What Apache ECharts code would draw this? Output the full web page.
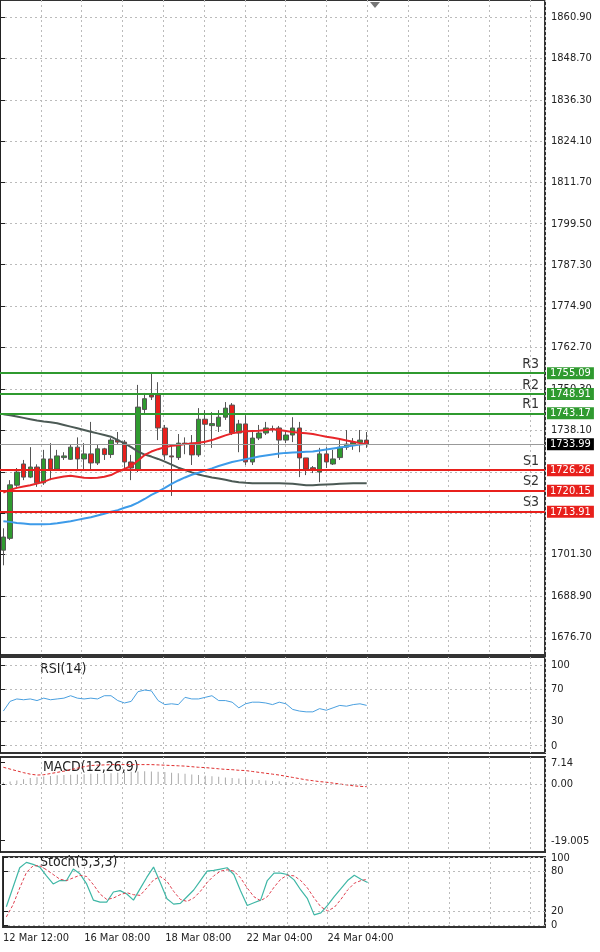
<!DOCTYPE html>
<html><head><meta charset="utf-8">
<script src="https://cdn.jsdelivr.net/npm/echarts@6/dist/echarts.min.js"></script>
<style>html,body{margin:0;padding:0;background:#fff}#c{width:600px;height:952px}</style>
</head><body><div id="c"></div>
<script>
const opens  = [1702.5,1706,1721.8,1728.1,1724.2,1727.2,1722.5,1729.6,1726.6,1730,1729.5,1733.1,1729.6,1731.1,1728.4,1732.6,1730.9,1735.2,1734.6,1728.7,1726.3,1744.3,1748.6,1748.6,1738.8,1730.5,1730,1734,1734.3,1730.8,1741.4,1739.5,1739.3,1742,1745.6,1737.3,1740,1728.7,1735.8,1737.3,1738.4,1738.8,1735.2,1736.7,1738.8,1729.9,1727,1725.7,1731.1,1728.1,1730,1733.1,1734,1734.5,1735.2];
const closes = [1706.4,1721.9,1725.7,1724.2,1727.2,1722.5,1729.6,1726.6,1730.5,1730.5,1733.1,1729.6,1731.1,1728.4,1732.6,1730.9,1735.2,1734.6,1728.7,1726.9,1745.0,1747.5,1748.0,1738.8,1730.8,1730.2,1734.3,1734.3,1730.8,1741.4,1739.9,1740.1,1742,1744.7,1737.3,1740,1728.7,1735.8,1737.3,1738.8,1738.6,1735.2,1736.7,1738.8,1729.9,1726.6,1726.2,1731.1,1728.7,1729.6,1733.1,1734,1734.5,1735.2,1733.99];
const lows   = [1698,1705.5,1721.3,1723.3,1723.9,1721.3,1721.9,1723.3,1726.3,1729.3,1729.3,1726.3,1726.3,1726.3,1727.8,1729.3,1729.9,1733.8,1726.3,1723.3,1725.7,1743.2,1747.1,1735.2,1729.3,1718.6,1729.3,1731,1727.8,1730.2,1733.8,1732.9,1737.6,1741.2,1736.7,1731.6,1727.8,1727.8,1735.2,1736.7,1737.5,1729.9,1734.3,1734.6,1724.2,1724.8,1725.4,1722.7,1726.9,1727.8,1729.3,1732.3,1732.3,1731.6,1732.9];
const highs  = [1709,1723.3,1726.9,1729.3,1733.1,1728,1732.3,1734.3,1732.3,1731.6,1733.8,1736,1734.3,1740.6,1733.8,1732.9,1735.8,1737.6,1735.2,1730.8,1751.6,1749.2,1755.1,1752.4,1739.7,1734.0,1737,1736,1736.7,1744.7,1744.1,1743.5,1744.1,1746.5,1746.2,1741.2,1742.6,1738.2,1739.7,1740.6,1739.5,1739.4,1738.2,1742,1740.6,1729.9,1727.5,1732.9,1733.1,1732.3,1735.2,1738.2,1735.8,1738.2,1737.6];
const maFast = [1719.6,1720.4,1721.0,1721.4,1721.8,1722.3,1722.8,1723.6,1724.0,1724.4,1724.6,1724.3,1724.0,1723.9,1724.0,1724.3,1724.8,1725.8,1726.6,1727.5,1729.1,1730.8,1731.8,1732.5,1733.1,1733.5,1733.7,1734.0,1734.2,1734.4,1734.7,1735.2,1735.9,1736.6,1737.2,1737.6,1737.8,1737.9,1738.0,1738.2,1738.4,1738.2,1737.9,1737.6,1737.4,1737.2,1737.0,1736.6,1736.2,1735.9,1735.5,1735.1,1734.7,1734.3,1734.0];
const maMid  = [1711.1,1710.9,1710.6,1710.4,1710.2,1710.2,1710.2,1710.3,1710.5,1710.8,1711.1,1711.5,1711.9,1712.3,1712.8,1713.3,1713.9,1714.4,1715.1,1715.7,1716.6,1717.7,1718.9,1719.9,1721.0,1722.2,1723.2,1724.1,1724.9,1725.5,1726.2,1726.8,1727.5,1728.1,1728.7,1729.1,1729.5,1729.9,1730.3,1730.6,1730.9,1731.2,1731.4,1731.5,1731.6,1731.7,1731.8,1732.1,1732.4,1732.7,1733.0,1733.3,1733.6,1733.9,1734.1];
const maSlow = [1742.9,1742.6,1742.2,1741.8,1741.4,1741.0,1740.7,1740.5,1740.2,1739.7,1739.2,1738.7,1738.2,1737.7,1737.2,1736.7,1736.2,1735.2,1734.2,1733.1,1731.8,1730.9,1730.3,1729.6,1728.8,1727.9,1727.0,1726.3,1725.6,1725.0,1724.5,1724.1,1723.8,1723.4,1723.0,1722.7,1722.5,1722.4,1722.4,1722.4,1722.4,1722.4,1722.3,1722.2,1722.0,1721.8,1721.8,1721.9,1722.0,1722.1,1722.2,1722.3,1722.4,1722.4,1722.4];
const rsi = [43,55,58,57,58,56,59,57,58,59,62,59,58,59,58,62,62,56,53,55,67,69,68,56,51,52,51,60,58,58,60,62,56,56,54,47,52,54,54,53,51,54,52,45,43,42,42,46,44,47,50,49,51,52,50];
const macdHist = [0.5,0.8,1.2,1.6,2.0,2.3,2.5,2.7,2.9,3.0,3.1,3.2,3.3,3.4,3.4,3.5,3.6,3.8,4.0,4.1,4.2,4.3,4.2,4.1,4.0,3.8,3.6,3.4,3.2,3.0,2.8,2.6,2.4,2.2,2.0,1.8,1.6,1.4,1.3,1.2,1.0,0.9,0.7,0.6,0.4,0.3,0.2,0.1,0,-0.1,-0.2,-0.3,-0.4,-0.5,-0.5];
const macdSignal = [5.6,5.0,4.4,3.8,3.3,3.0,3.1,3.5,3.9,4.3,4.8,5.3,5.8,6.2,6.3,6.4,6.5,6.5,6.5,6.5,6.5,6.5,6.5,6.4,6.3,6.2,6.1,6.0,5.8,5.6,5.5,5.3,5.1,4.9,4.8,4.6,4.5,4.2,3.9,3.6,3.3,3.0,2.6,2.2,1.8,1.4,1.1,0.8,0.6,0.3,0,-0.3,-0.6,-0.8,-0.9];
const stochK = [27,56,85,93,90,86,73,61,66,66,83,76,61,37,34,34,49,51,46,37,54,71,86,63,39,31,32,42,52,66,80,81,83,85,75,51,29,33,37,66,77,77,75,67,52,39,15,18,29,42,54,66,74,68,63];
const stochD = [12,30,55,78,88,88,82,75,68,66,70,74,72,60,46,38,40,45,48,45,44,55,67,72,65,50,38,35,40,50,63,73,80,82,80,70,55,42,36,42,56,68,74,73,66,55,40,27,21,26,38,52,62,66,68];
const levelNames  = ['R3','R2','R1','S1','S2','S3'];
const levelValues = [1755.09,1748.91,1743.17,1726.26,1720.15,1713.91];
const lastPrice = 1733.99;
const priceTicks = [1860.9,1848.7,1836.3,1824.1,1811.7,1799.5,1787.3,1774.9,1762.7,1750.3,1738.1,1701.3,1688.9,1676.7];
const priceGridTicks = [1860.9,1848.7,1836.3,1824.1,1811.7,1799.5,1787.3,1774.9,1762.7,1750.3,1738.1,1725.7,1713.5,1701.3,1688.9,1676.7];
const timeLabels = ['12 Mar 12:00','16 Mar 08:00','18 Mar 08:00','22 Mar 04:00','24 Mar 04:00'];
const SLOTS = 81;
const cats = Array.from({length: SLOTS}, (_, i) => i);

const GREEN = '#2f9a2f', RED = '#e8201c';
const grids = [
  {left:0, right:55, top:0, height:655},
  {left:0, right:55, top:657, height:96},
  {left:0, right:55, top:757, height:95},
  {left:0, right:55, top:857, height:70}
].map(g => Object.assign(g, {show:true, borderColor:'#333', borderWidth:2, backgroundColor:'#fff'}));

const xAxes = [], yAxes = [];
grids.forEach((g, k) => {
  xAxes.push({type:'category', gridIndex:k, data:cats, boundaryGap:true, show:false});
  xAxes.push({type:'value', gridIndex:k, min:0, max:13.36, interval:1, position:'bottom',
    axisLine:{show:false}, axisTick:{show:false},
    axisLabel: k===3 ? {show:true, align:'left', color:'#222', fontSize:11, fontFamily:'DejaVu Sans Condensed, Liberation Sans', margin:6,
      formatter: v => (v % 2 === 0 && timeLabels[v/2]) ? timeLabels[v/2] : ''} : {show:false},
    splitLine:{show:true, lineStyle:{color:'#bbb', type:[2,3], width:1}}});
});
const lbl = {color:'#222', fontSize:11, fontFamily:'DejaVu Sans Condensed, Liberation Sans', margin:6};
const dashed = {show:true, lineStyle:{color:'#bbb', type:[2,3]}};
yAxes.push({type:'value', gridIndex:0, position:'right', min:1671.35, max:1865.95, scale:true,
  axisLine:{show:true, lineStyle:{color:'#222'}}, axisTick:{show:true, customValues:priceGridTicks, lineStyle:{color:'#222'}},
  axisLabel:Object.assign({customValues:priceTicks, formatter: v => v.toFixed(2)}, lbl), splitLine:dashed});
yAxes.push({type:'value', gridIndex:1, position:'right', min:-9, max:110,
  axisLine:{show:true, lineStyle:{color:'#222'}}, axisTick:{show:true, customValues:[0,30,70,100]},
  axisLabel:Object.assign({customValues:[0,30,70,100]}, lbl), splitLine:dashed});
yAxes.push({type:'value', gridIndex:2, position:'right', min:-22.8, max:9.05,
  axisLine:{show:true, lineStyle:{color:'#222'}}, axisTick:{show:true, customValues:[7.14,0,-19.005]},
  axisLabel:Object.assign({customValues:[7.14,0,-19.005], formatter: v => v===-19.005?'-19.005':v.toFixed(2)}, lbl),
  splitLine:{show:false}});
yAxes.push({type:'value', gridIndex:3, position:'right', min:-3, max:101,
  axisLine:{show:true, lineStyle:{color:'#222'}}, axisTick:{show:true, customValues:[0,20,80,100]},
  axisLabel:Object.assign({customValues:[0,20,80,100]}, lbl), splitLine:dashed});

const ohlc = opens.map((o, i) => [o, closes[i], lows[i], highs[i]]);
const levelLines = levelValues.map((v, i) => ({yAxis:v, name:levelNames[i],
  lineStyle:{color: i<3 ? GREEN : RED, width:2, type:'solid'},
  label:{show:true, position:'insideEndTop', formatter:levelNames[i], color:'#333', fontSize:14, fontFamily:'DejaVu Sans Condensed', distance:[6,2]}}));
const boxLines = levelValues.map((v, i) => ({yAxis:v,
  lineStyle:{color:'rgba(0,0,0,0)', width:0},
  label:{show:true, position:'end', formatter:v.toFixed(2), color:'#fff', backgroundColor: i<3 ? GREEN : RED,
    padding:[1,3,0,3], fontSize:11, fontFamily:'DejaVu Sans Condensed', distance:2}}));
boxLines.push({yAxis:lastPrice, lineStyle:{color:'#999', width:1, type:'solid'},
  label:{show:true, position:'end', formatter:lastPrice.toFixed(2), color:'#fff', backgroundColor:'#000',
    padding:[1,3,0,3], fontSize:11, fontFamily:'DejaVu Sans Condensed', distance:2}});

const series = [
  {type:'candlestick', xAxisIndex:0, yAxisIndex:0, data:ohlc, barWidth:5,
   itemStyle:{color:GREEN, color0:RED, borderColor:'#555', borderColor0:'#555', borderWidth:1},
   markLine:{symbol:'none', silent:true, data:levelLines}},
  {type:'line', xAxisIndex:0, yAxisIndex:0, data:[], markLine:{symbol:'none', silent:true, data:boxLines}},
  {type:'line', xAxisIndex:0, yAxisIndex:0, data:maSlow, showSymbol:false, lineStyle:{color:'#4c5a55', width:2}},
  {type:'line', xAxisIndex:0, yAxisIndex:0, data:maMid, showSymbol:false, lineStyle:{color:'#3d9be9', width:2}},
  {type:'line', xAxisIndex:0, yAxisIndex:0, data:maFast, showSymbol:false, lineStyle:{color:'#e8262a', width:2}},
  {type:'line', xAxisIndex:2, yAxisIndex:1, data:rsi, showSymbol:false, lineStyle:{color:'#4aa0e0', width:1}},
  {type:'bar', xAxisIndex:4, yAxisIndex:2, data:macdHist, barWidth:1, itemStyle:{color:'#aaa'}},
  {type:'line', xAxisIndex:4, yAxisIndex:2, data:macdSignal, showSymbol:false, lineStyle:{color:'#e03030', width:1, type:[3,2]},
   markLine:{symbol:'none', silent:true, label:{show:false}, data:[{yAxis:0, lineStyle:{color:'#bbb', type:[2,3], width:1}}]}},
  {type:'line', xAxisIndex:6, yAxisIndex:3, data:stochK, showSymbol:false, lineStyle:{color:'#3fb7a6', width:1.2}},
  {type:'line', xAxisIndex:6, yAxisIndex:3, data:stochD, showSymbol:false, lineStyle:{color:'#e04050', width:1, type:[3,2]}}
];

const chart = echarts.init(document.getElementById('c'), null, {renderer:'canvas'});
chart.setOption({
  animation:false, backgroundColor:'#fff',
  grid:grids, xAxis:xAxes, yAxis:yAxes, series:series,
  graphic:[
    {type:'text', left:40, top:662, style:{text:'RSI(14)', fontSize:14, fill:'#222', fontFamily:'DejaVu Sans Condensed'}},
    {type:'text', left:43, top:760, style:{text:'MACD(12,26,9)', fontSize:14, fill:'#222', fontFamily:'DejaVu Sans Condensed'}},
    {type:'text', left:40, top:855, style:{text:'Stoch(5,3,3)', fontSize:14, fill:'#222', fontFamily:'DejaVu Sans Condensed'}},
    {type:'polygon', shape:{points:[[370,2],[380,2],[375,8]]}, style:{fill:'#777'}}
  ]
});
</script></body></html>
